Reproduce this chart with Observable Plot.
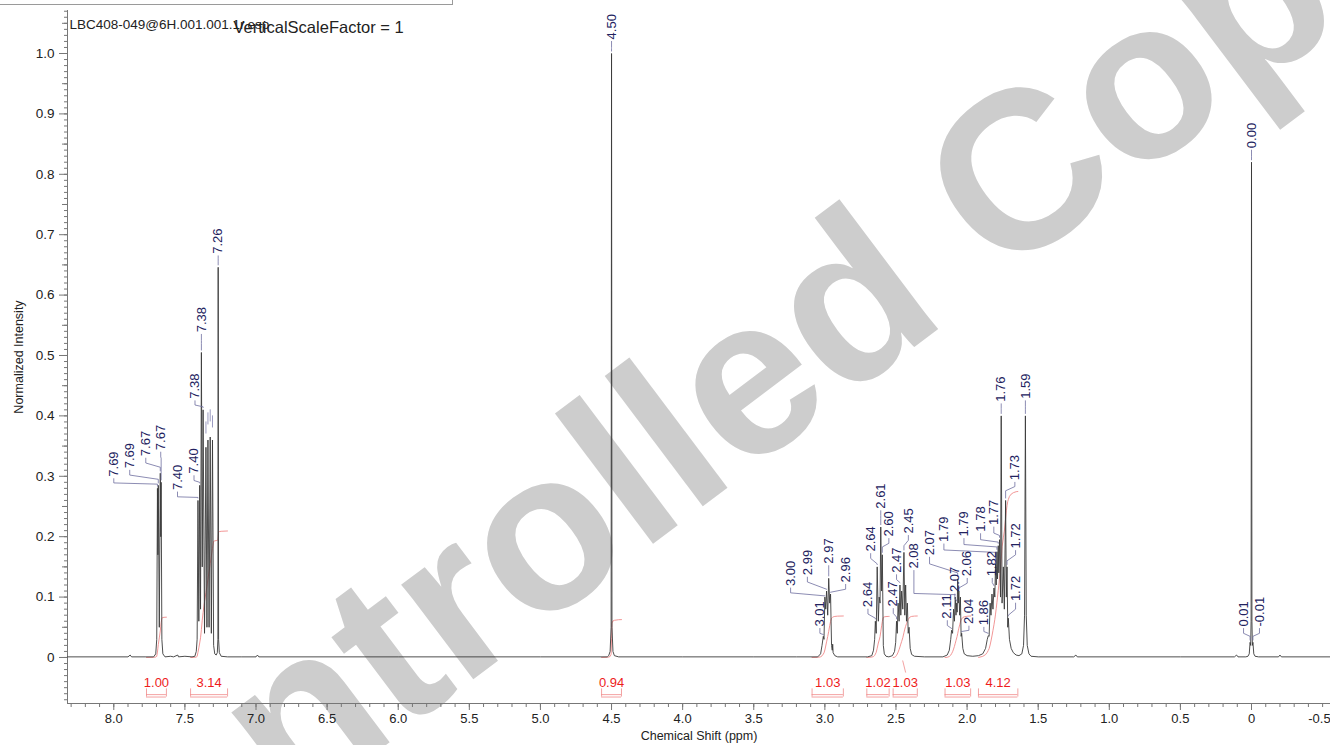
<!DOCTYPE html>
<html><head><meta charset="utf-8">
<script src="https://cdn.jsdelivr.net/npm/d3@7"></script>
<script src="https://cdn.jsdelivr.net/npm/@observablehq/plot@0.6"></script>
<style>
body{margin:0;background:#fff;font-family:"Liberation Sans",Arial,sans-serif;}
#wrap{position:relative;width:1330px;height:745px;overflow:hidden}
#hdr{position:absolute;left:0;top:0;width:452px;height:4px;border-bottom:1px solid #9a9a9a;border-right:1px solid #9a9a9a}
</style></head><body><div id="wrap"><div id="hdr"></div><div id="chart"></div></div>
<script>
// ---------- DATA (ppm, normalized intensity) ----------
const baseLeft = [[8.3255,0.001],[7.90,0.001],[7.885,0.004],[7.875,0.001],[7.78,0.001]];
const groupArom1 = [[7.72,0.001],[7.705,0.006],[7.698,0.03],[7.693,0.28],[7.690,0.17],[7.687,0.285],[7.680,0.05],[7.673,0.305],[7.670,0.2],[7.667,0.29],[7.662,0.03],[7.655,0.006],[7.64,0.001]];
const baseMid1 = [[7.60,0.002],[7.58,0.001],[7.55,0.004],[7.545,0.001],[7.50,0.002],[7.45,0.001]];
const groupArom2 = [[7.43,0.002],[7.42,0.01],[7.414,0.03],[7.408,0.26],[7.402,0.06],[7.396,0.285],[7.390,0.08],[7.384,0.505],[7.378,0.15],[7.372,0.41],[7.362,0.04],[7.352,0.348],[7.345,0.05],[7.338,0.36],[7.330,0.05],[7.322,0.365],[7.314,0.04],[7.306,0.36],[7.298,0.02],[7.29,0.006],[7.28,0.004],[7.272,0.008],[7.268,0.03],[7.266,0.646],[7.263,0.03],[7.258,0.008],[7.245,0.002],[7.20,0.001]];
const baseMid2 = [[7.10,0.001],[7.00,0.001],[6.99,0.004],[6.98,0.001],[6.0,0.001],[5.0,0.001],[4.53,0.001]];
const group450 = [[4.52,0.003],[4.51,0.01],[4.503,0.05],[4.500,1.0],[4.497,0.05],[4.49,0.01],[4.48,0.003],[4.45,0.001]];
const baseMid3 = [[4.0,0.001],[3.5,0.001],[3.2,0.001],[3.05,0.001]];
const group300 = [[3.03,0.006],[3.02,0.02],[3.011,0.035],[3.006,0.03],[3.000,0.10],[2.994,0.08],[2.988,0.11],[2.980,0.07],[2.973,0.131],[2.966,0.09],[2.960,0.105],[2.953,0.02],[2.948,0.012],[2.945,0.022],[2.942,0.008],[2.93,0.003],[2.91,0.001],[2.70,0.001]];
const group261 = [[2.67,0.003],[2.658,0.012],[2.650,0.03],[2.645,0.06],[2.639,0.04],[2.632,0.15],[2.624,0.06],[2.618,0.10],[2.612,0.09],[2.607,0.216],[2.601,0.11],[2.596,0.17],[2.589,0.02],[2.582,0.006],[2.57,0.002],[2.55,0.001],[2.525,0.003]];
const group245 = [[2.51,0.01],[2.502,0.025],[2.496,0.06],[2.491,0.04],[2.485,0.09],[2.478,0.06],[2.472,0.12],[2.466,0.07],[2.460,0.11],[2.452,0.08],[2.444,0.174],[2.438,0.07],[2.432,0.12],[2.426,0.06],[2.420,0.09],[2.414,0.04],[2.408,0.05],[2.40,0.015],[2.39,0.005],[2.37,0.002],[2.30,0.001],[2.17,0.001]];
const group207 = [[2.14,0.004],[2.125,0.012],[2.115,0.03],[2.109,0.045],[2.102,0.04],[2.095,0.08],[2.089,0.06],[2.083,0.10],[2.078,0.07],[2.073,0.09],[2.070,0.075],[2.066,0.13],[2.062,0.09],[2.058,0.11],[2.052,0.07],[2.047,0.10],[2.042,0.035],[2.038,0.04],[2.03,0.015],[2.02,0.006],[2.00,0.003],[1.96,0.002],[1.92,0.003]];
const group176 = [[1.89,0.006],[1.87,0.015],[1.858,0.03],[1.851,0.036],[1.845,0.035],[1.838,0.09],[1.832,0.07],[1.825,0.105],[1.818,0.08],[1.811,0.115],[1.805,0.10],[1.800,0.155],[1.795,0.12],[1.790,0.175],[1.786,0.13],[1.781,0.185],[1.777,0.14],[1.772,0.195],[1.765,0.10],[1.760,0.40],[1.754,0.09],[1.745,0.15],[1.738,0.08],[1.729,0.26],[1.724,0.10],[1.719,0.15],[1.714,0.05],[1.710,0.065],[1.702,0.03],[1.69,0.015],[1.675,0.008],[1.655,0.004],[1.635,0.003],[1.615,0.006],[1.603,0.02],[1.596,0.07],[1.590,0.40],[1.584,0.07],[1.577,0.02],[1.565,0.006],[1.55,0.002],[1.50,0.001]];
const baseMid4 = [[1.25,0.001],[1.235,0.004],[1.225,0.001],[0.5,0.001],[0.12,0.001],[0.105,0.004],[0.095,0.001],[0.04,0.001]];
const groupTMS = [[0.025,0.002],[0.016,0.006],[0.010,0.025],[0.006,0.02],[0.003,0.06],[0.000,0.82],[-0.003,0.06],[-0.006,0.02],[-0.010,0.025],[-0.016,0.006],[-0.025,0.002],[-0.05,0.001],[-0.19,0.001],[-0.20,0.004],[-0.21,0.001],[-0.5554,0.001]];

// [label, peak ppm, peak top, label ppm, label bottom, bend y, knee y]
const peakLabels = [
 ["7.69",7.693,0.28, 8.000,0.296,0.289,0.287],
 ["7.69",7.687,0.285,7.888,0.310,0.302,0.295],
 ["7.67",7.673,0.305,7.775,0.330,0.322,0.315],
 ["7.67",7.667,0.29, 7.670,0.340,0.332,0.33],
 ["7.40",7.408,0.26, 7.552,0.274,0.266,0.265],
 ["7.40",7.396,0.285,7.436,0.301,0.293,0.29],
 ["7.38",7.372,0.41, 7.429,0.425,0.418,0.415],
 ["7.38",7.384,0.505,7.384,0.535,0.525,0.52],
 ["7.26",7.266,0.646,7.266,0.665,0.66,0.655],
 ["4.50",4.500,1.0, 4.500,1.02,1.01,1.008],
 ["3.01",3.011,0.035,3.035,0.048,0.04,0.038],
 ["3.00",3.000,0.10,3.241,0.115,0.107,0.102],
 ["2.99",2.988,0.11,3.123,0.133,0.125,0.113],
 ["2.97",2.973,0.131,2.973,0.152,0.145,0.14],
 ["2.96",2.960,0.105,2.854,0.121,0.113,0.108],
 ["2.64",2.645,0.06,2.697,0.08,0.072,0.065],
 ["2.64",2.632,0.15,2.678,0.172,0.164,0.155],
 ["2.61",2.607,0.216,2.607,0.243,0.235,0.23],
 ["2.60",2.596,0.17,2.550,0.197,0.189,0.183],
 ["2.47",2.496,0.06,2.519,0.081,0.073,0.067],
 ["2.47",2.472,0.12,2.496,0.137,0.129,0.124],
 ["2.45",2.444,0.174,2.413,0.202,0.194,0.185],
 ["2.08",2.083,0.10,2.374,0.144,0.106,0.104],
 ["2.11",2.109,0.045,2.139,0.061,0.053,0.048],
 ["2.07",2.066,0.13,2.264,0.166,0.155,0.14],
 ["2.07",2.073,0.09,2.086,0.105,0.097,0.095],
 ["2.06",2.058,0.11,1.999,0.131,0.123,0.115],
 ["2.04",2.038,0.04,1.987,0.052,0.045,0.043],
 ["1.86",1.851,0.036,1.882,0.05,0.043,0.04],
 ["1.82",1.811,0.115,1.823,0.131,0.124,0.119],
 ["1.79",1.800,0.155,2.163,0.188,0.178,0.174],
 ["1.79",1.790,0.175,2.022,0.197,0.187,0.183],
 ["1.78",1.781,0.185,1.905,0.205,0.195,0.191],
 ["1.77",1.772,0.195,1.812,0.216,0.206,0.202],
 ["1.76",1.760,0.40,1.760,0.42,0.412,0.41],
 ["1.73",1.729,0.26,1.664,0.29,0.283,0.276],
 ["1.72",1.719,0.15,1.659,0.177,0.17,0.16],
 ["1.72",1.710,0.065,1.659,0.09,0.08,0.07],
 ["1.59",1.590,0.40,1.590,0.425,0.415,0.41],
 ["0.00",0.000,0.82,0.000,0.84,0.832,0.83],
 ["0.01",0.010,0.025,0.056,0.048,0.04,0.035],
 ["-0.01",-0.010,0.025,-0.056,0.048,0.04,0.035]
];
// unlabeled peak picks: [ppm, y1, y2]
const peakPicks = [[7.352,0.37,0.39],[7.338,0.385,0.405],[7.322,0.39,0.41],[7.306,0.38,0.40]];

// integrals: [value, from ppm, to ppm]
const integrals = [[1.00,7.77,7.63],[3.14,7.46,7.20],[0.94,4.57,4.43],[1.03,3.09,2.87],[1.02,2.705,2.548],[1.03,2.52,2.35],[1.03,2.155,1.975],[4.12,1.92,1.643]];
// integral-to-label connector: [ppm1, y1, ppm2, y2]
const integralConnectors = [[2.453,-0.005,2.432,-0.025]];

const xMajorTicks = [8.0,7.5,7.0,6.5,6.0,5.5,5.0,4.5,4.0,3.5,3.0,2.5,2.0,1.5,1.0,0.5,0];
const xEdgeTick = [-0.5];
const yMajorTicks = [0,0.1,0.2,0.3,0.4,0.5,0.6,0.7,0.8,0.9,1.0];
const titleText = "LBC408-049@6H.001.001.1r.esp";
const scaleText = "VerticalScaleFactor = 1";
const xLabel = "Chemical Shift (ppm)";
const yLabel = "Normalized Intensity";
const watermark = "Controlled Copy";

// ---------- BUILD ----------
const spectrum = [].concat(baseLeft, groupArom1, baseMid1, groupArom2, baseMid2, group450, baseMid3, group300, group261, group245, group207, group176, baseMid4, groupTMS)
  .sort((a,b) => b[0]-a[0]);

const H_PER_UNIT = 0.0667;
const integralPts = [];
integrals.forEach(([val, from, to], i) => {
  const pts = spectrum.filter(p => p[0] <= from && p[0] >= to);
  const cum = [[from, 0]];
  let acc = 0, prev = [from, 0];
  for (const p of pts) { acc += (prev[0]-p[0])*(prev[1]+p[1])/2; cum.push([p[0], acc]); prev = p; }
  acc += (prev[0]-to)*prev[1]/2; cum.push([to, acc]);
  cum.forEach(([x, a]) => integralPts.push({id: i, x, y: a/acc*val*H_PER_UNIT}));
});

const leaders = [];
peakLabels.forEach(([t, px, top, lx, ly, by, ky], i) => {
  leaders.push({id:i, x:lx, y:ly}, {id:i, x:lx, y:by}, {id:i, x:px, y:ky});
  if (top + 0.004 < ky) leaders.push({id:i, x:px, y:top + 0.004});
});

const xDomain = [8.3255, -0.5554], yDomain = [-0.0762, 1.0712];
const xMinor = d3.range(-5, 84).map(i => i/10);
const yMinor = d3.range(-7, 108).map(i => i/100);
const yMid = d3.range(0, 11).map(i => i/10 + 0.05);
const fmt = d => d === 0 ? "0" : d.toFixed(1);
const red = "#ee1c1c", pink = "#f08a8a", navy = "#22225e";

const chart = Plot.plot({
  width: 1330, height: 745,
  marginLeft: 67, marginRight: 0, marginTop: 10, marginBottom: 42,
  x: {domain: xDomain}, y: {domain: yDomain},
  style: {fontFamily: '"Liberation Sans", Arial, sans-serif', fontSize: "13px", color: "#222", background: "white", overflow: "visible"},
  marks: [
    Plot.text([watermark], {frameAnchor: "middle", text: d => d, dx: 8, dy: 56, rotate: -37, fontSize: 225, fontWeight: "bold", fill: "#cdcdcd"}),
    Plot.ruleX([xDomain[0]], {stroke: "#777", strokeWidth: 1}),
    Plot.ruleY([yDomain[0]], {stroke: "#777", strokeWidth: 1}),
    Plot.axisY({ticks: yMinor, tickSize: 3, tickFormat: () => "", label: null, stroke: "#777"}),
    Plot.axisY({ticks: yMid, tickSize: 5, tickFormat: () => "", label: null, stroke: "#777"}),
    Plot.axisY({ticks: yMajorTicks, tickSize: 8, tickPadding: 5, tickFormat: fmt, label: null, fontSize: 13.5, stroke: "#777", fill: "#222"}),
    Plot.axisX({ticks: xMinor, tickSize: 4, tickFormat: () => "", label: null, stroke: "#777"}),
    Plot.axisX({ticks: xMajorTicks, tickSize: 7, tickPadding: 3, tickFormat: fmt, label: null, fontSize: 13, stroke: "#777", fill: "#222"}),
    Plot.axisX({ticks: xEdgeTick, tickSize: 7, tickPadding: 3, tickFormat: fmt, label: null, fontSize: 13, stroke: "#777", fill: "#222", textAnchor: "end", dx: 8}),
    Plot.text([xLabel], {frameAnchor: "bottom", text: d => d, dy: 36, fontSize: 12.5, fill: "#222"}),
    Plot.text([yLabel], {frameAnchor: "left", text: d => d, dx: -49, rotate: -90, textAnchor: "middle", fontSize: 12.5, fill: "#222"}),
    Plot.text([titleText], {frameAnchor: "top-left", text: d => d, dx: 2, dy: 9, textAnchor: "start", fontSize: 13.5, fill: "#222"}),
    Plot.text([scaleText], {frameAnchor: "top-left", text: d => d, dx: 166, dy: 11, textAnchor: "start", fontSize: 16.5, fill: "#222"}),
    // integral curves
    Plot.line(integralPts, {x: "x", y: "y", z: "id", stroke: pink, strokeWidth: 0.9}),
    Plot.link(integralConnectors, {x1: d => d[0], y1: d => d[1], x2: d => d[2], y2: d => d[3], stroke: pink, strokeWidth: 0.8}),
    // spectrum
    Plot.line(spectrum, {x: d => d[0], y: d => d[1], stroke: "#3a3a3a", strokeWidth: 0.9}),
    // leaders & labels
    Plot.line(leaders, {x: "x", y: "y", z: "id", stroke: "#6e6ea0", strokeWidth: 0.8}),
    Plot.ruleX(peakPicks, {x: d => d[0], y1: d => d[1], y2: d => d[2], stroke: "#8080b0", strokeWidth: 0.8}),
    Plot.text(peakLabels, {x: d => d[3], y: d => d[4], text: d => d[0], rotate: -90, textAnchor: "start", dy: -2, fontSize: 13, fill: navy}),
    // integral brackets
    Plot.ruleY(integrals, {x1: d => d[1], x2: d => d[2], y: -0.0615, stroke: pink, strokeWidth: 0.8}),
    Plot.ruleY(integrals, {x1: d => d[1], x2: d => d[2], y: -0.0655, stroke: pink, strokeWidth: 0.8}),
    Plot.ruleX(integrals, {x: d => d[1], y1: -0.052, y2: -0.0655, stroke: pink, strokeWidth: 0.8}),
    Plot.ruleX(integrals, {x: d => d[2], y1: -0.052, y2: -0.0655, stroke: pink, strokeWidth: 0.8}),
    Plot.text(integrals, {x: d => (d[1]+d[2])/2, y: -0.042, text: d => d[0].toFixed(2), fontSize: 13, fill: red})
  ]
});
document.getElementById("chart").appendChild(chart);
</script></body></html>
